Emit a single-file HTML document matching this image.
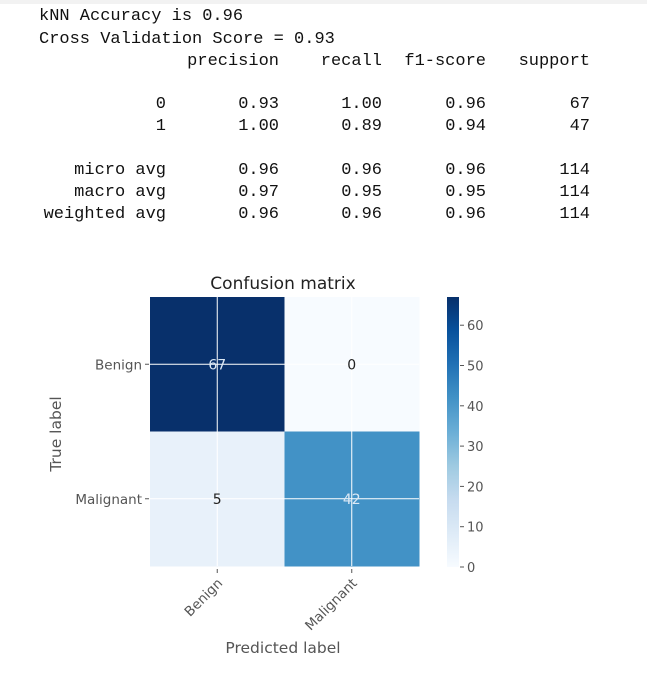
<!DOCTYPE html>
<html><head><meta charset="utf-8"><style>
body{margin:0;width:647px;height:676px;background:#fff;overflow:hidden;position:relative;font-family:"Liberation Mono",monospace;}
.t{position:absolute;font-size:17px;color:#111;white-space:pre;line-height:20px;}
</style></head><body>
<div style="position:absolute;left:0;top:0;width:647px;height:4px;background:#f2f2f2"></div>
<div class="t" style="left:39px;top:7px">kNN Accuracy is 0.96</div>
<div class="t" style="left:39px;top:30px">Cross Validation Score = 0.93</div>
<div id="rep"></div>
<svg id="chart" width="647" height="676" style="position:absolute;left:0;top:0" font-family="'DejaVu Sans','Liberation Sans',sans-serif"></svg>
<script>
const repRows=[["","precision","recall","f1-score","support"],["0","0.93","1.00","0.96","67"],["1","1.00","0.89","0.94","47"],["micro avg","0.96","0.96","0.96","114"],["macro avg","0.97","0.95","0.95","114"],["weighted avg","0.96","0.96","0.96","114"]];
const repY=[52,95,117,161,183,205];
const colRight=[166,279,382,486,590];
const rep=document.getElementById('rep');
repRows.forEach((row,i)=>row.forEach((txt,j)=>{
 if(!txt)return;
 const d=document.createElement('div');
 
 
 d.className='t';d.textContent=txt;
 d.style.top=repY[i]+'px';d.style.right=(647-colRight[j])+'px';
 rep.appendChild(d);
}));

const classes=["Benign","Malignant"];
const matrix=[[67,0],[5,42]];
const cbTicks=[0,10,20,30,40,50,60];
const vmax=67;
const NS='http://www.w3.org/2000/svg';
const svg=document.getElementById('chart');
function el(tag,attrs){const e=document.createElementNS(NS,tag);for(const k in attrs)e.setAttribute(k,attrs[k]);svg.appendChild(e);return e;}
const stops=[[0,[247,251,255]],[0.125,[222,235,247]],[0.25,[198,219,239]],[0.375,[158,202,225]],[0.5,[107,174,214]],[0.625,[66,146,198]],[0.75,[33,113,181]],[0.875,[8,81,156]],[1,[8,48,107]]];
function blues(t){for(let i=1;i<stops.length;i++){if(t<=stops[i][0]){const a=stops[i-1],b=stops[i],f=(t-a[0])/(b[0]-a[0]);return 'rgb('+a[1].map((v,k)=>Math.round(v+(b[1][k]-v)*f)).join(',')+')';}}return 'rgb(8,48,107)';}
const X0=150,Y0=297,CS=134.5;
const xc=j=>X0+CS*(j+0.5), yc=i=>Y0+CS*(i+0.5);
matrix.forEach((row,i)=>row.forEach((v,j)=>{
 const r=el('rect',{x:X0+CS*j,y:Y0+CS*i,width:CS+0.5,height:CS+0.5,fill:blues(v/vmax)});
 
 
}));
classes.forEach((c,k)=>{
 el('line',{x1:xc(k),x2:xc(k),y1:Y0,y2:Y0+2*CS,stroke:'#fff','stroke-width':1});
 el('line',{y1:yc(k),y2:yc(k),x1:X0,x2:X0+2*CS,stroke:'#fff','stroke-width':1});
});
matrix.forEach((row,i)=>row.forEach((v,j)=>{
 const t=el('text',{x:xc(j),y:yc(i)+5,'text-anchor':'middle','font-size':14,fill:v>vmax/2?'#dbe8f5':'#222'});
 t.textContent=v;
 
 
}));
classes.forEach((c,k)=>{
 el('line',{x1:X0-5,x2:X0-1,y1:yc(k),y2:yc(k),stroke:'#555'});
 const t=el('text',{x:X0-8,y:yc(k)+5,'text-anchor':'end','font-size':13.5,fill:'#555'});
 t.textContent=c;
 
 
 el('line',{x1:xc(k),x2:xc(k),y1:Y0+2*CS+3,y2:Y0+2*CS+7,stroke:'#555'});
 const u=el('text',{x:xc(k)+6,y:Y0+2*CS+18,'text-anchor':'end','font-size':13.5,fill:'#555',transform:'rotate(-45 '+(xc(k)+6)+' '+(Y0+2*CS+18)+')'});
 u.textContent=c;
 
 
});
const CBX=447,CBW=12,CBT=297,CBB=567;
const defs=el('defs',{});
const g=document.createElementNS(NS,'linearGradient');g.setAttribute('id','cb');g.setAttribute('x1',0);g.setAttribute('y1',1);g.setAttribute('x2',0);g.setAttribute('y2',0);defs.appendChild(g);
stops.forEach(s=>{const st=document.createElementNS(NS,'stop');st.setAttribute('offset',s[0]);st.setAttribute('stop-color','rgb('+s[1].join(',')+')');g.appendChild(st);});
const cb=el('rect',{x:CBX,y:CBT,width:CBW,height:CBB-CBT,fill:'url(#cb)'});


const cy=v=>CBB-(v/vmax)*(CBB-CBT);
cbTicks.forEach(v=>{
 el('line',{x1:CBX+CBW+1,x2:CBX+CBW+5,y1:cy(v),y2:cy(v),stroke:'#555'});
 const t=el('text',{x:CBX+CBW+8,y:cy(v)+5,'font-size':13,fill:'#555'});
 t.textContent=v;
 
 
});
let t=el('text',{x:283,y:289,'text-anchor':'middle','font-size':17,fill:'#222'});t.textContent='Confusion matrix';


t=el('text',{x:283,y:653,'text-anchor':'middle','font-size':15.5,fill:'#555'});t.textContent='Predicted label';


t=el('text',{x:61,y:434,'text-anchor':'middle','font-size':15.5,fill:'#555',transform:'rotate(-90 61 434)'});t.textContent='True label';


</script>
</body></html>
